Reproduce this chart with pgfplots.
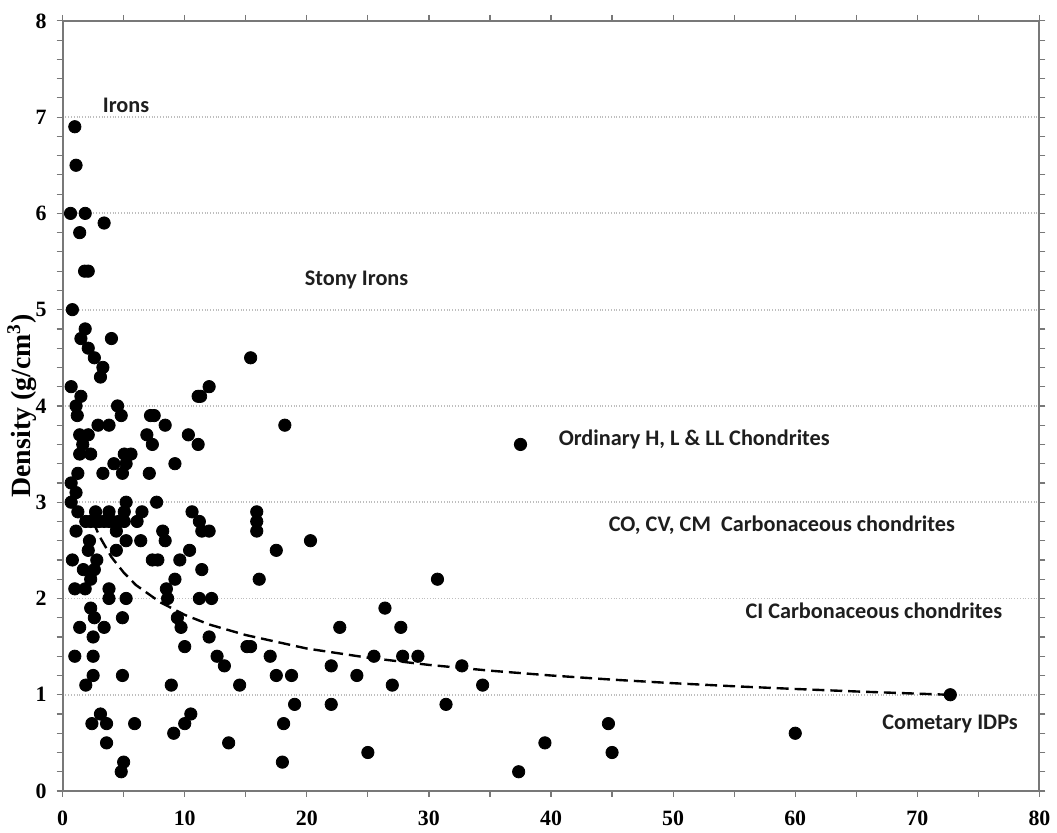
\documentclass[border=0pt]{standalone}
\usepackage{pgfplots}
\pgfplotsset{compat=1.18}
\usepackage{fontspec}
\setmainfont{Liberation Serif}
\newfontfamily\calibri{Carlito}
\usetikzlibrary{calc}
\definecolor{axgray}{RGB}{120,120,120}
\definecolor{gridgray}{RGB}{190,190,190}
\definecolor{txt}{RGB}{30,30,30}
\begin{document}
\begin{tikzpicture}
\begin{axis}[
  scale only axis,
  width=491.5pt, height=387.5pt,
  xmin=0, xmax=80, ymin=0, ymax=8,
  xtick={0,10,...,80}, ytick={0,1,...,8},
  minor x tick num=1, minor y tick num=4,
  tick align=outside,
  major tick length=3pt, minor tick length=3pt,
  every tick/.style={axgray, line width=0.6pt},
  axis line style={axgray, line width=1pt},
  ymajorgrids,
  major grid style={densely dotted, gridgray, line width=0.9pt},
  /pgf/number format/assume math mode=true,
  ticklabel style={font=\bfseries\fontsize{11}{12}\selectfont},
  xticklabel style={yshift=-3.5pt},
  yticklabel style={xshift=-1.5pt},
  ylabel={Density (g/cm\textsuperscript{3})},
  ylabel style={font=\bfseries\fontsize{14}{16}\selectfont, at={(axis description cs:-0.0417,0.5)}, anchor=center},
  clip=false,
]
\addplot[black, dash pattern=on 6pt off 3pt, line width=1.2pt] coordinates {
(2.5,2.80) (3,2.65) (4,2.43) (5,2.27) (6,2.14) (8,1.96) (10,1.83) (12,1.73)
(15,1.62) (20,1.48) (25,1.385) (30,1.31) (35,1.25) (40,1.20) (45,1.157)
(50,1.12) (55,1.088) (60,1.06) (65,1.034) (72.5,1.0)
};
\addplot[only marks, mark=*, mark size=3.1pt, black] coordinates {
(1.0,6.9) (1.1,6.5) (0.65,6.0) (1.85,6.0) (3.4,5.9) (1.4,5.8) (1.8,5.4) (2.1,5.4)
(0.8,5.0) (1.85,4.8) (1.5,4.7) (4.0,4.7) (2.1,4.6) (2.6,4.5) (3.3,4.4) (3.1,4.3)
(0.7,4.2) (1.5,4.1) (1.1,4.0) (4.5,4.0) (1.2,3.9) (4.8,3.9) (7.2,3.9) (7.5,3.9)
(2.9,3.8) (3.8,3.8) (8.4,3.8) (1.4,3.7) (2.1,3.7) (6.9,3.7) (10.3,3.7)
(1.65,3.6) (7.35,3.6) (11.1,3.6) (1.4,3.5) (2.3,3.5) (5.05,3.5) (5.6,3.5)
(4.2,3.4) (5.2,3.4) (9.2,3.4) (1.25,3.3) (3.3,3.3) (4.9,3.3) (7.1,3.3)
(0.7,3.2) (1.1,3.1) (0.7,3.0) (5.2,3.0) (7.7,3.0)
(11.1,4.1) (11.3,4.1) (12.0,4.2) (15.4,4.5) (18.2,3.8) (37.5,3.6)
(1.25,2.9) (2.7,2.9) (3.8,2.9) (5.05,2.9) (6.5,2.9) (10.6,2.9) (15.9,2.9)
(1.9,2.8) (2.3,2.8) (2.7,2.8) (3.0,2.8) (3.4,2.8) (3.8,2.8) (4.1,2.8) (4.6,2.8)
(5.05,2.8) (6.1,2.8) (11.2,2.8) (15.9,2.8)
(1.1,2.7) (4.4,2.7) (8.2,2.7) (11.4,2.7) (12.0,2.7) (15.9,2.7)
(2.2,2.6) (5.2,2.6) (6.4,2.6) (8.4,2.6) (20.3,2.6)
(2.1,2.5) (4.4,2.5) (10.4,2.5) (17.5,2.5)
(0.8,2.4) (2.8,2.4) (7.35,2.4) (7.8,2.4) (9.6,2.4)
(1.7,2.3) (2.6,2.3) (11.4,2.3)
(2.3,2.2) (9.2,2.2) (16.1,2.2) (30.7,2.2)
(1.0,2.1) (1.85,2.1) (3.8,2.1) (8.5,2.1)
(3.8,2.0) (5.2,2.0) (8.6,2.0) (11.2,2.0) (12.2,2.0)
(2.3,1.9) (26.4,1.9)
(2.6,1.8) (4.9,1.8) (9.4,1.8)
(1.4,1.7) (3.4,1.7) (9.7,1.7) (22.7,1.7) (27.7,1.7)
(2.5,1.6) (12.0,1.6)
(10.0,1.5) (15.1,1.5) (15.4,1.5)
(1.0,1.4) (2.5,1.4) (12.65,1.4) (17.0,1.4) (25.5,1.4) (27.85,1.4) (29.1,1.4)
(13.25,1.3) (22.0,1.3) (32.7,1.3)
(2.5,1.2) (4.9,1.2) (17.5,1.2) (18.75,1.2) (24.1,1.2)
(1.9,1.1) (8.9,1.1) (14.5,1.1) (27.0,1.1) (34.4,1.1)
(72.7,1.0)
(19.0,0.9) (22.0,0.9) (31.4,0.9)
(3.1,0.8) (10.5,0.8)
(2.4,0.7) (3.6,0.7) (5.9,0.7) (10.0,0.7) (18.1,0.7) (44.7,0.7)
(9.1,0.6) (60.0,0.6)
(3.6,0.5) (13.6,0.5) (39.5,0.5)
(25.0,0.4) (45.0,0.4)
(5.0,0.3) (18.0,0.3)
(4.8,0.2) (37.35,0.2)
};
\begin{scope}[every node/.style={anchor=west, inner sep=0pt, text=txt, font=\calibri\bfseries\fontsize{11.2}{13}\selectfont}]
\node at (axis cs:3.26,7.12) {Irons};
\node at (axis cs:19.8,5.31) {Stony Irons};
\node at (axis cs:40.6,3.65) {Ordinary H, L \& LL Chondrites};
\node at (axis cs:44.7,2.76) {CO, CV, CM\ \ Carbonaceous chondrites};
\node at (axis cs:55.9,1.87) {CI Carbonaceous chondrites};
\node at (axis cs:67.1,0.70) {Cometary IDPs};
\end{scope}
\end{axis}
\path ($(current axis.south west)+(-31.5pt,-16.5pt)$) rectangle ($(current axis.north east)+(5.5pt,10.5pt)$);
\end{tikzpicture}
\end{document}
